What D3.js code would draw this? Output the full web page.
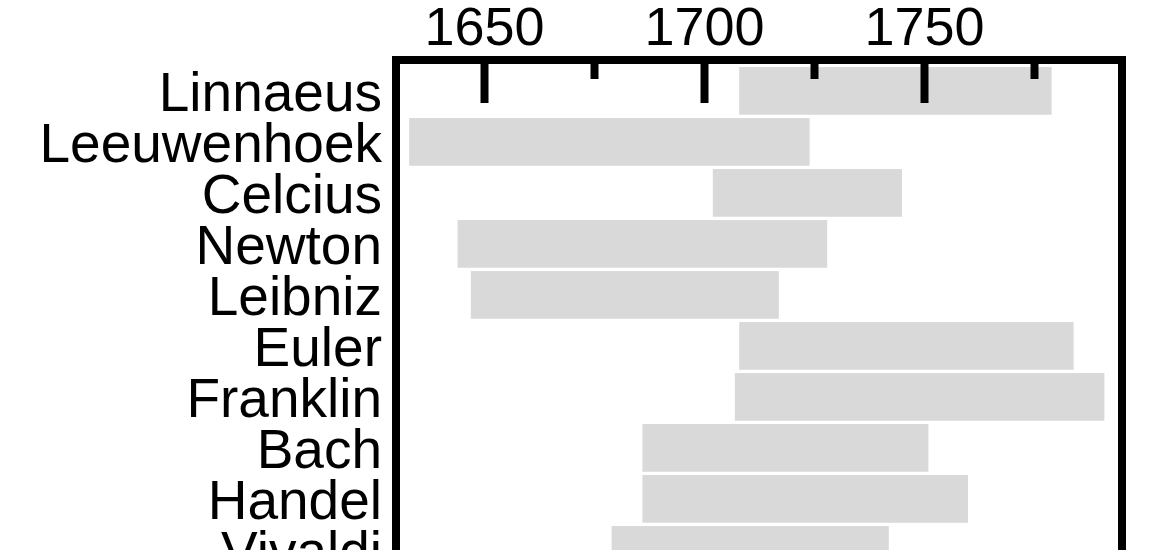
<!DOCTYPE html>
<html>
<head>
<meta charset="utf-8">
<script src="https://cdn.jsdelivr.net/npm/d3@7"></script>
<style>
  html, body { margin: 0; padding: 0; background: #fff; overflow: hidden; }
  svg { display: block; }
  text { font-family: "Liberation Sans", Arial, Helvetica, sans-serif; fill: #000; }
</style>
</head>
<body>
<svg id="chart" width="1170" height="550"></svg>
<script>
// Data
const names = ["Linnaeus", "Leeuwenhoek", "Celcius", "Newton", "Leibniz",
               "Euler", "Franklin", "Bach", "Handel", "Vivaldi"];
const startYears = [1708, 1633, 1702, 1644, 1647, 1708, 1707, 1686, 1686, 1679];
const endYears   = [1779, 1724, 1745, 1728, 1717, 1784, 1791, 1751, 1760, 1742];
const majorTicks = [1650, 1700, 1750];
const minorTicks = [1675, 1725, 1775];

const svg = d3.select("#chart");

const plotLeft = 396, plotRight = 1122, plotTop = 60;
const x = d3.scaleLinear().domain([1630, 1795]).range([plotLeft, plotRight]);
const y = d3.scaleBand().domain(names).range([65.4, 575.4])
  .paddingInner(0.065).paddingOuter(0.0325);

// bars
svg.append("g").selectAll("rect")
  .data(names)
  .join("rect")
  .attr("x", (d, i) => x(startYears[i]))
  .attr("width", (d, i) => x(endYears[i]) - x(startYears[i]))
  .attr("y", d => y(d))
  .attr("height", y.bandwidth())
  .attr("fill", "#d9d9d9");

// labels
svg.append("g").selectAll("text")
  .data(names)
  .join("text")
  .attr("x", 382)
  .attr("y", d => y(d) + y.bandwidth() / 2)
  .attr("dy", "0.36em")
  .attr("text-anchor", "end")
  .style("font-size", "55px")
  .text(d => d);

// frame
svg.append("rect")
  .attr("x", plotLeft).attr("y", plotTop)
  .attr("width", plotRight - plotLeft).attr("height", 560)
  .attr("fill", "none").attr("stroke", "#000").attr("stroke-width", 8);

// major ticks + labels
const gMaj = svg.append("g").attr("transform", `translate(0,${plotTop})`)
  .call(d3.axisTop(x).tickValues(majorTicks).tickSize(-43).tickPadding(15).tickFormat(d3.format("d")));
gMaj.select(".domain").remove();
gMaj.selectAll("line").attr("stroke", "#000").attr("stroke-width", 8);
gMaj.selectAll("text").style("font-size", "54px")
  .style("font-family", "'Liberation Sans', Arial, sans-serif").attr("fill", "#000");

// minor ticks
const gMin = svg.append("g").attr("transform", `translate(0,${plotTop})`)
  .call(d3.axisTop(x).tickValues(minorTicks).tickSize(-19).tickFormat(""));
gMin.select(".domain").remove();
gMin.selectAll("line").attr("stroke", "#000").attr("stroke-width", 8);
</script>
</body>
</html>
